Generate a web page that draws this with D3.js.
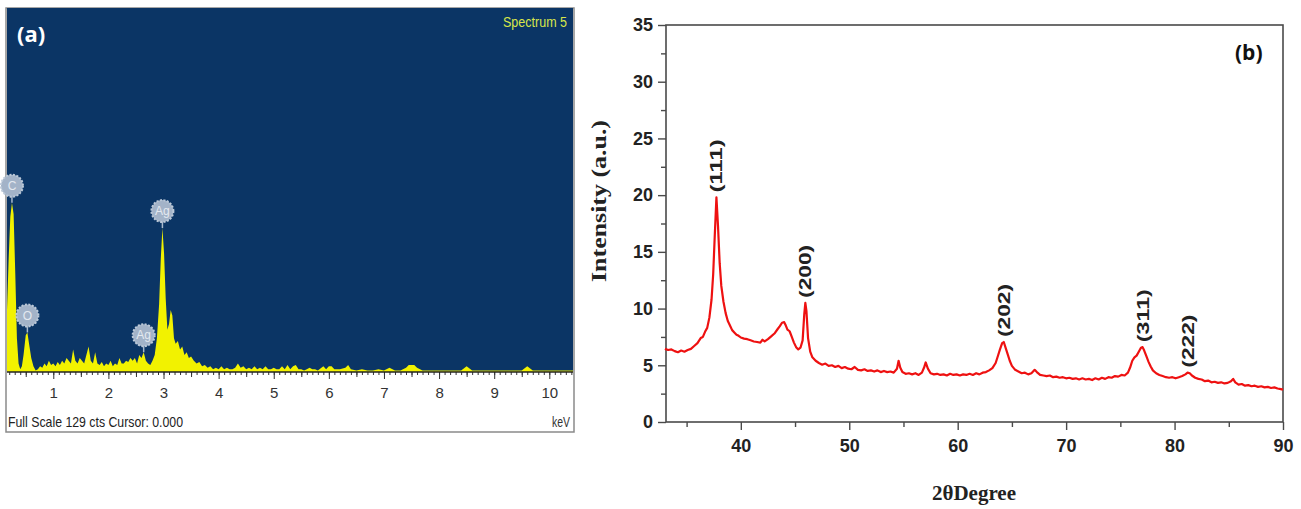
<!DOCTYPE html>
<html>
<head>
<meta charset="utf-8">
<script src="https://cdn.jsdelivr.net/npm/d3@7"></script>
<style>
  body { margin: 0; background: #fff; }
  svg { display: block; }
  .narrow { font-family: "Liberation Sans", Arial, sans-serif; }
</style>
</head>
<body>
<script>
// ---- panel (a) EDS spectrum ----
var edsEnergy = [0.16,0.19,0.22,0.25,0.28,0.31,0.34,0.37,0.40,0.43,0.46,0.50,0.53,0.56,0.60,0.64,0.68,0.72,0.76,0.80,
  0.84,0.88,0.92,0.96,1.00,1.04,1.08,1.12,1.16,1.20,1.24,1.28,1.32,1.36,1.40,1.44,1.48,1.52,1.56,1.60,
  1.64,1.68,1.72,1.76,1.80,1.84,1.88,1.92,1.96,2.00,2.04,2.08,2.12,2.16,2.20,2.24,2.28,2.32,2.36,2.40,
  2.44,2.48,2.52,2.56,2.60,2.64,2.68,2.72,2.76,2.80,2.84,2.88,2.92,2.95,2.98,3.01,3.04,3.07,3.10,3.13,
  3.16,3.19,3.22,3.26,3.30,3.34,3.38,3.42,3.46,3.50,3.55,3.60,3.65,3.70,3.75,3.80,3.85,3.90,3.95,4.00,
  4.05,4.10,4.15,4.20,4.25,4.30,4.35,4.40,4.45,4.50,4.55,4.60,4.65,4.70,4.75,4.80,4.85,4.90,4.95,5.00,
  5.05,5.10,5.15,5.20,5.25,5.30,5.35,5.40,5.45,5.50,5.55,5.60,5.65,5.70,5.75,5.80,5.90,5.95,6.00,6.05,
  6.10,6.20,6.30,6.35,6.40,6.50,6.60,6.70,6.80,6.90,7.00,7.10,7.20,7.30,7.40,7.45,7.50,7.55,7.60,7.70,
  7.80,7.90,8.00,8.10,8.20,8.30,8.40,8.50,8.60,8.70,8.80,8.90,9.00,9.10,9.20,9.30,9.40,9.50,9.60,9.70,
  9.80,9.90,10.00,10.10,10.20,10.30,10.43];
var edsCounts = [22,40,55,60,56,35,12,3,1,2,6,13,14,10,5,2,0.5,1,2,1.5,
  3,2,4,2.5,3,2,3.5,2.5,4,3,5,4,3,8,4,3,5,4,3,6,
  9,4,3,7,3,2.5,3.5,2,3,2.5,4,2,3,2.5,5,3,3,4,3.5,5,
  4,5,3,6,5,7,4,3,2.5,4,6,12,24,40,51,42,26,15,17,22,
  20,12,10,11,8,9,6,7,5,5.5,4,3,3.5,2,2.5,1.5,2,1,1.5,1,
  2,1,1.5,1,1,1.5,3,1.5,2,1,1.5,1,2,1,1.5,1,2,1,1,1.5,
  1,1,2,1,2.5,1,2,2.5,1,1,0.5,1,1.5,1,1,0.5,2,1,2,2,
  1,1,1.5,2.5,1,0.5,1,0.5,0.5,1,0.5,1.5,0.5,0.5,1.5,2.5,2.5,2.5,1.5,0.5,
  0.5,0.5,0.5,0.5,0.5,0.5,0.5,2,0.5,0.5,0.5,0.5,0.5,0.5,0.5,0.5,0.5,0.5,2,0.5,
  0.5,0.5,0.5,0.5,0.5,0.5,0.5];
var edsTicks = [1,2,3,4,5,6,7,8,9,10];
var edsLabels = ["C","O","Ag","Ag"];
var edsLabelEnergy = [0.25,0.53,2.64,2.98];
var edsLabelCounts = [60,14,7,51];

// ---- panel (b) XRD pattern ----
var xrdAngle = [33.0,33.3,33.6,33.9,34.2,34.5,34.8,35.1,35.4,35.7,36.0,36.3,36.5,36.7,36.9,37.1,37.3,37.45,37.6,37.75,
  37.9,38.05,38.2,38.4,38.6,38.8,39.0,39.2,39.4,39.6,39.8,40.0,40.3,40.6,40.9,41.2,41.5,41.8,42.0,42.2,
  42.5,42.8,43.1,43.4,43.6,43.8,44.0,44.15,44.3,44.5,44.7,44.9,45.1,45.3,45.5,45.7,45.85,45.95,46.05,46.2,
  46.4,46.6,46.9,47.2,47.5,47.8,48.1,48.4,48.7,49.0,49.3,49.6,49.9,50.2,50.5,50.8,51.1,51.4,51.7,52.0,
  52.3,52.6,52.9,53.2,53.5,53.8,54.1,54.4,54.55,54.7,54.9,55.2,55.5,55.8,56.1,56.4,56.7,56.9,57.05,57.25,
  57.5,57.8,58.1,58.4,58.7,59.0,59.3,59.6,59.9,60.2,60.5,60.8,61.1,61.4,61.7,62.0,62.3,62.6,62.9,63.2,
  63.5,63.7,63.9,64.1,64.25,64.4,64.6,64.8,65.0,65.3,65.6,65.9,66.2,66.5,66.8,67.1,67.3,67.6,67.9,68.2,
  68.5,68.8,69.1,69.4,69.7,70.0,70.3,70.6,70.9,71.2,71.5,71.8,72.1,72.4,72.7,73.0,73.3,73.6,73.9,74.2,
  74.5,74.8,75.1,75.4,75.7,75.9,76.1,76.3,76.5,76.7,76.9,77.05,77.2,77.4,77.6,77.8,78.0,78.3,78.6,78.9,
  79.2,79.5,79.8,80.1,80.4,80.7,81.0,81.2,81.4,81.6,81.9,82.2,82.5,82.8,83.1,83.4,83.7,84.0,84.3,84.6,
  84.9,85.2,85.4,85.6,85.9,86.2,86.5,86.8,87.1,87.4,87.7,88.0,88.3,88.6,88.9,89.2,89.5,89.8,90.0];
var xrdIntensity = [6.45,6.35,6.40,6.25,6.15,6.30,6.20,6.35,6.45,6.70,6.95,7.40,7.50,7.95,8.30,9.20,10.8,13.0,16.5,19.8,
  17.2,14.0,12.0,10.6,9.6,8.9,8.5,8.1,7.9,7.7,7.6,7.45,7.35,7.30,7.20,7.10,7.05,7.00,7.25,7.10,
  7.30,7.55,7.80,8.20,8.45,8.75,8.80,8.50,8.15,8.00,7.50,7.00,6.60,6.40,6.55,7.20,9.50,10.5,9.80,7.40,
  6.20,5.70,5.40,5.20,5.05,5.15,4.95,5.00,4.85,4.95,4.75,4.85,4.70,4.65,4.85,4.60,4.55,4.65,4.50,4.55,
  4.45,4.55,4.40,4.50,4.40,4.45,4.35,4.70,5.40,4.80,4.40,4.25,4.30,4.20,4.30,4.15,4.35,4.80,5.25,4.70,
  4.30,4.20,4.25,4.15,4.20,4.10,4.25,4.15,4.20,4.10,4.20,4.15,4.25,4.15,4.30,4.20,4.35,4.40,4.55,4.75,
  5.20,5.80,6.40,6.95,7.05,6.60,6.00,5.40,4.95,4.60,4.45,4.30,4.35,4.20,4.30,4.60,4.40,4.15,4.10,4.05,
  4.10,3.95,4.00,3.90,3.95,3.85,3.90,3.80,3.85,3.75,3.85,3.75,3.80,3.70,3.85,3.75,3.90,3.80,3.95,3.90,
  4.05,4.00,4.15,4.10,4.35,4.80,5.40,5.70,5.85,6.20,6.55,6.60,6.30,5.80,5.30,4.90,4.55,4.30,4.15,4.05,
  3.95,3.90,3.95,3.85,3.95,4.05,4.20,4.35,4.30,4.10,3.90,3.80,3.75,3.60,3.65,3.50,3.55,3.45,3.50,3.40,
  3.45,3.60,3.80,3.50,3.30,3.35,3.20,3.25,3.15,3.20,3.10,3.15,3.05,3.10,3.00,3.05,2.95,2.90,2.85];
var hklLabels = ["(111)","(200)","(202)","(311)","(222)"];
var hklAngle = [37.75,45.95,64.25,77.05,81.2];
var xrdYTicks = [0,5,10,15,20,25,30,35];
var xrdXTicks = [40,50,60,70,80,90];

var W = 1301, H = 509;
var svg = d3.select('body').append('svg')
  .attr('width', W)
  .attr('height', H);

// ================= panel (a) =================
var a = { left: 7, right: 573, top: 8, base: 372, bottom: 432 };

svg.append('rect')
  .attr('x', a.left - 1).attr('y', a.top)
  .attr('width', a.right - a.left + 2).attr('height', a.bottom - a.top)
  .attr('fill', '#fff').attr('stroke', '#8a8a8a').attr('stroke-width', 1.5);

svg.append('rect')
  .attr('x', a.left).attr('y', a.top)
  .attr('width', a.right - a.left).attr('height', a.base - a.top)
  .attr('fill', '#0b3565');

var ex = d3.scaleLinear().domain([0.16, 10.43]).range([a.left, a.right]);
var ey = d3.scaleLinear().domain([0, 129]).range([a.base, a.top]);

var edsData = edsEnergy.map(function(e, i) { return { e: e, c: edsCounts[i] }; });

svg.append('path')
  .datum(edsData)
  .attr('fill', '#f2f200')
  .attr('d', d3.area()
    .x(function(d) { return ex(d.e); })
    .y0(a.base)
    .y1(function(d) { return ey(d.c); }));

// minor ticks every 0.1 keV
var minorE = [];
for (var k = 2; k <= 104; k++) { minorE.push(k / 10); }
svg.append('g')
  .attr('transform', 'translate(0,' + a.base + ')')
  .call(d3.axisBottom(ex).tickValues(minorE).tickSize(3).tickFormat(''))
  .call(function(g) { g.select('.domain').remove(); })
  .selectAll('line').attr('stroke', '#333');

var halfE = [0.5,1.5,2.5,3.5,4.5,5.5,6.5,7.5,8.5,9.5];
svg.append('g')
  .attr('transform', 'translate(0,' + a.base + ')')
  .call(d3.axisBottom(ex).tickValues(halfE).tickSize(5).tickFormat(''))
  .call(function(g) { g.select('.domain').remove(); })
  .selectAll('line').attr('stroke', '#333');

var ea = svg.append('g')
  .attr('transform', 'translate(0,' + a.base + ')')
  .call(d3.axisBottom(ex).tickValues(edsTicks).tickSize(7).tickPadding(8));
ea.select('.domain').remove();
ea.selectAll('line').attr('stroke', '#333');
ea.selectAll('text')
  .attr('class', 'narrow')
  .style('font-size', '15px')
  .attr('fill', '#333');

svg.append('line')
  .attr('x1', a.left).attr('x2', a.right)
  .attr('y1', a.base).attr('y2', a.base)
  .attr('stroke', '#222').attr('stroke-width', 1.5);

// element badges
var badge = svg.append('g').selectAll('g')
  .data(edsLabels)
  .enter().append('g')
    .attr('transform', function(d, i) {
      return 'translate(' + ex(edsLabelEnergy[i]) + ',' + (ey(edsLabelCounts[i]) - 17) + ')';
    });
badge.append('line')
  .attr('x1', 0).attr('x2', 0).attr('y1', 9).attr('y2', 17)
  .attr('stroke', '#a9b9cc').attr('stroke-width', 1.5);
badge.append('circle')
  .attr('r', 11)
  .attr('fill', '#a3b3c8')
  .attr('stroke', '#bcc9d8')
  .attr('stroke-width', 2)
  .attr('stroke-dasharray', '2,1.5');
badge.append('text')
  .attr('class', 'narrow')
  .attr('text-anchor', 'middle')
  .attr('dy', '0.35em')
  .style('font-size', '12px')
  .attr('fill', '#e4e9f0')
  .text(function(d) { return d; });

svg.append('text')
  .attr('x', 17).attr('y', 42)
  .style('font-family', '"Open Sans", sans-serif')
  .style('font-weight', 'bold')
  .style('font-size', '22px')
  .attr('fill', '#fff')
  .text('(a)');

svg.append('text')
  .attr('class', 'narrow')
  .attr('x', 567).attr('y', 27)
  .attr('text-anchor', 'end')
  .attr('textLength', 64)
  .attr('lengthAdjust', 'spacingAndGlyphs')
  .style('font-size', '14px')
  .attr('fill', '#d8e64a')
  .text('Spectrum 5');

svg.append('text')
  .attr('class', 'narrow')
  .attr('x', 8).attr('y', 427)
  .attr('textLength', 175)
  .attr('lengthAdjust', 'spacingAndGlyphs')
  .style('font-size', '15px')
  .attr('fill', '#222')
  .text('Full Scale 129 cts Cursor: 0.000');

svg.append('text')
  .attr('class', 'narrow')
  .attr('x', 570).attr('y', 427)
  .attr('text-anchor', 'end')
  .attr('textLength', 18)
  .attr('lengthAdjust', 'spacingAndGlyphs')
  .style('font-size', '14px')
  .attr('fill', '#333')
  .text('keV');

// ================= panel (b) =================
var b = { left: 666, right: 1283, top: 25, bottom: 422 };

var x = d3.scaleLinear().domain([33.1, 90]).range([b.left, b.right]);
var y = d3.scaleLinear().domain([0, 35]).range([b.bottom, b.top]);

svg.append('rect')
  .attr('x', b.left).attr('y', b.top)
  .attr('width', b.right - b.left).attr('height', b.bottom - b.top)
  .attr('fill', 'none').attr('stroke', '#4a4a4a').attr('stroke-width', 1.6);

var tickFont = function(sel) {
  sel.selectAll('text')
    .attr('class', 'narrow')
    .style('font-size', '18px')
    .style('font-weight', 'bold')
    .attr('fill', '#222');
  sel.selectAll('line').attr('stroke', '#4a4a4a').attr('stroke-width', 1.4);
  sel.select('.domain').remove();
};

svg.append('g')
  .attr('transform', 'translate(' + b.left + ',0)')
  .call(d3.axisLeft(y).tickValues([2.5,7.5,12.5,17.5,22.5,27.5,32.5]).tickSize(5).tickFormat(''))
  .call(tickFont);
svg.append('g')
  .attr('transform', 'translate(' + b.left + ',0)')
  .call(d3.axisLeft(y).tickValues(xrdYTicks).tickSize(8).tickPadding(5))
  .call(tickFont);

svg.append('g')
  .attr('transform', 'translate(0,' + b.bottom + ')')
  .call(d3.axisBottom(x).tickValues([35,45,55,65,75,85]).tickSize(5).tickFormat(''))
  .call(tickFont);
svg.append('g')
  .attr('transform', 'translate(0,' + b.bottom + ')')
  .call(d3.axisBottom(x).tickValues(xrdXTicks).tickSize(8).tickPadding(9))
  .call(tickFont);

var xrdData = xrdAngle.map(function(t, i) { return { t: t, v: xrdIntensity[i] }; });

svg.append('path')
  .datum(xrdData)
  .attr('fill', 'none')
  .attr('stroke', '#ee1111')
  .attr('stroke-width', 2.2)
  .attr('stroke-linejoin', 'round')
  .attr('d', d3.line()
    .x(function(d) { return x(d.t); })
    .y(function(d) { return y(d.v); }));

// hkl labels sit just above the local maximum of the curve
svg.append('g').selectAll('text')
  .data(hklLabels)
  .enter().append('text')
    .attr('transform', function(d, i) {
      var top = d3.max(xrdData.filter(function(p) { return Math.abs(p.t - hklAngle[i]) < 0.6; }), function(p) { return p.v; });
      return 'translate(' + (x(hklAngle[i]) + 6) + ',' + (y(top) - 5) + ') rotate(-90)';
    })
    .attr('textLength', 53)
    .attr('lengthAdjust', 'spacingAndGlyphs')
    .style('font-family', '"Liberation Sans", Arial, sans-serif')
    .style('font-weight', 'bold')
    .style('font-size', '17px')
    .attr('fill', '#222')
    .text(function(d) { return d; });

svg.append('text')
  .attr('transform', 'translate(606,201) rotate(-90)')
  .attr('text-anchor', 'middle')
  .attr('textLength', 162)
  .attr('lengthAdjust', 'spacingAndGlyphs')
  .style('font-family', '"Liberation Serif", "Times New Roman", serif')
  .style('font-weight', 'bold')
  .style('font-size', '20px')
  .attr('fill', '#222')
  .text('Intensity (a.u.)');

svg.append('text')
  .attr('x', 974).attr('y', 500)
  .attr('text-anchor', 'middle')
  .style('font-family', '"Liberation Serif", "Times New Roman", serif')
  .style('font-weight', 'bold')
  .style('font-size', '21px')
  .attr('fill', '#222')
  .text('2θDegree');

svg.append('text')
  .attr('x', 1235).attr('y', 60)
  .style('font-family', '"Open Sans", sans-serif')
  .style('font-weight', 'bold')
  .style('font-size', '21px')
  .attr('fill', '#111')
  .text('(b)');
</script>
</body>
</html>
